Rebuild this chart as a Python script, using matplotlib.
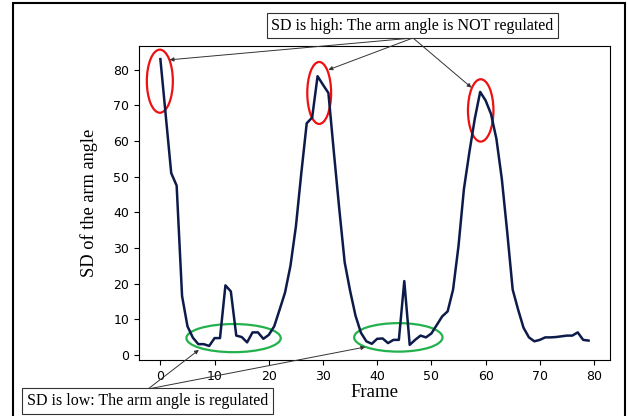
"""
SD of the arm angle per frame, with annotations
"""
import matplotlib.pyplot as plt
from matplotlib.patches import Ellipse, Rectangle

frames = list(range(80))
sd_angle = [83, 67, 51, 47.5, 16.5, 8, 4.8, 3, 3, 2.5,
            4.7, 4.7, 19.5, 17.8, 5.4, 5, 3.5, 6.3, 6.3, 4.5,
            5.6, 8, 12.7, 17.5, 25, 36, 51, 65, 66.6, 78.2,
            75.8, 73.5, 57, 41, 26, 18, 11, 6.2, 3.8, 3.1,
            4.5, 4.6, 3.3, 4.2, 4.2, 20.7, 2.8, 4.2, 5.4, 4.9,
            6, 8.4, 10.8, 12.2, 18.3, 30.5, 46.5, 56.8, 66.2, 73.8,
            71.4, 67.6, 60.6, 49.3, 34.3, 18.3, 12.7, 7.6, 4.9, 3.8,
            4.2, 4.9, 4.9, 5, 5.2, 5.4, 5.4, 6.3, 4.2, 4]
y_ticks = [0, 10, 20, 30, 40, 50, 60, 70, 80]

high_text = 'SD is high: The arm angle is NOT regulated'
low_text = 'SD is low: The arm angle is regulated'

# ellipses (x, y, width, height) in data units
red_marks = [(-0.1, 76.8, 4.8, 17.7), (29.3, 73.5, 4.4, 17.4), (59.1, 68.6, 4.7, 17.5)]
green_marks = [(13.5, 4.7, 17.4, 7.9), (43.9, 4.9, 16.3, 8.0)]
high_targets = [(1.7, 82.8), (31.0, 80.0), (57.4, 75.0)]
low_targets = [(7.1, 1.4), (37.8, 2.2)]

fig = plt.figure(figsize=(6.28, 4.16), dpi=100)
ax = fig.add_axes([0.2213, 0.1346, 0.75, 0.755])

ax.plot(frames, sd_angle, c='#0d1b4a', lw=1.8)
ax.set_xlim(-3.95, 82.95)
ax.set_ylim(-1.45, 86.7)
ax.set_yticks(y_ticks)
ax.tick_params(labelsize=9)
serif = ['Liberation Serif', 'DejaVu Serif']
ax.set_xlabel('Frame', family=serif, fontsize=13.5, labelpad=1)
ax.set_ylabel('SD of the arm angle', family=serif, fontsize=13.2, labelpad=11)

for x, y, w, h in red_marks:
    ax.add_patch(Ellipse((x, y), w, h, fill=False, ec='#ee1111', lw=1.6, clip_on=False))
for x, y, w, h in green_marks:
    ax.add_patch(Ellipse((x, y), w, h, fill=False, ec='#22b14c', lw=1.6, clip_on=False))

box = dict(boxstyle='square,pad=0.3', fc='white', ec='#333333', lw=0.8)
fig.text(0.6568, 0.9387, high_text, family=serif, fontsize=11.5,
         ha='center', va='center', bbox=box)
fig.text(0.2349, 0.036, low_text, family=serif, fontsize=11.5,
         ha='center', va='center', bbox=box)

arrow = dict(arrowstyle='-|>', color='#333333', lw=0.7, mutation_scale=6, shrinkA=0, shrinkB=0)
for tx, ty in high_targets:
    ax.annotate('', xy=(tx, ty), xytext=(0.6576, 0.9087), textcoords='figure fraction',
                arrowprops=arrow, annotation_clip=False)
for tx, ty in low_targets:
    ax.annotate('', xy=(tx, ty), xytext=(0.2357, 0.0649), textcoords='figure fraction',
                arrowprops=arrow, annotation_clip=False)

# outer frame around the whole picture
fig.patches.append(Rectangle((0.02, -0.05), 0.975, 1.0416, transform=fig.transFigure,
                             fill=False, ec='black', lw=1.5))

fig.savefig('out.png', dpi=100)
